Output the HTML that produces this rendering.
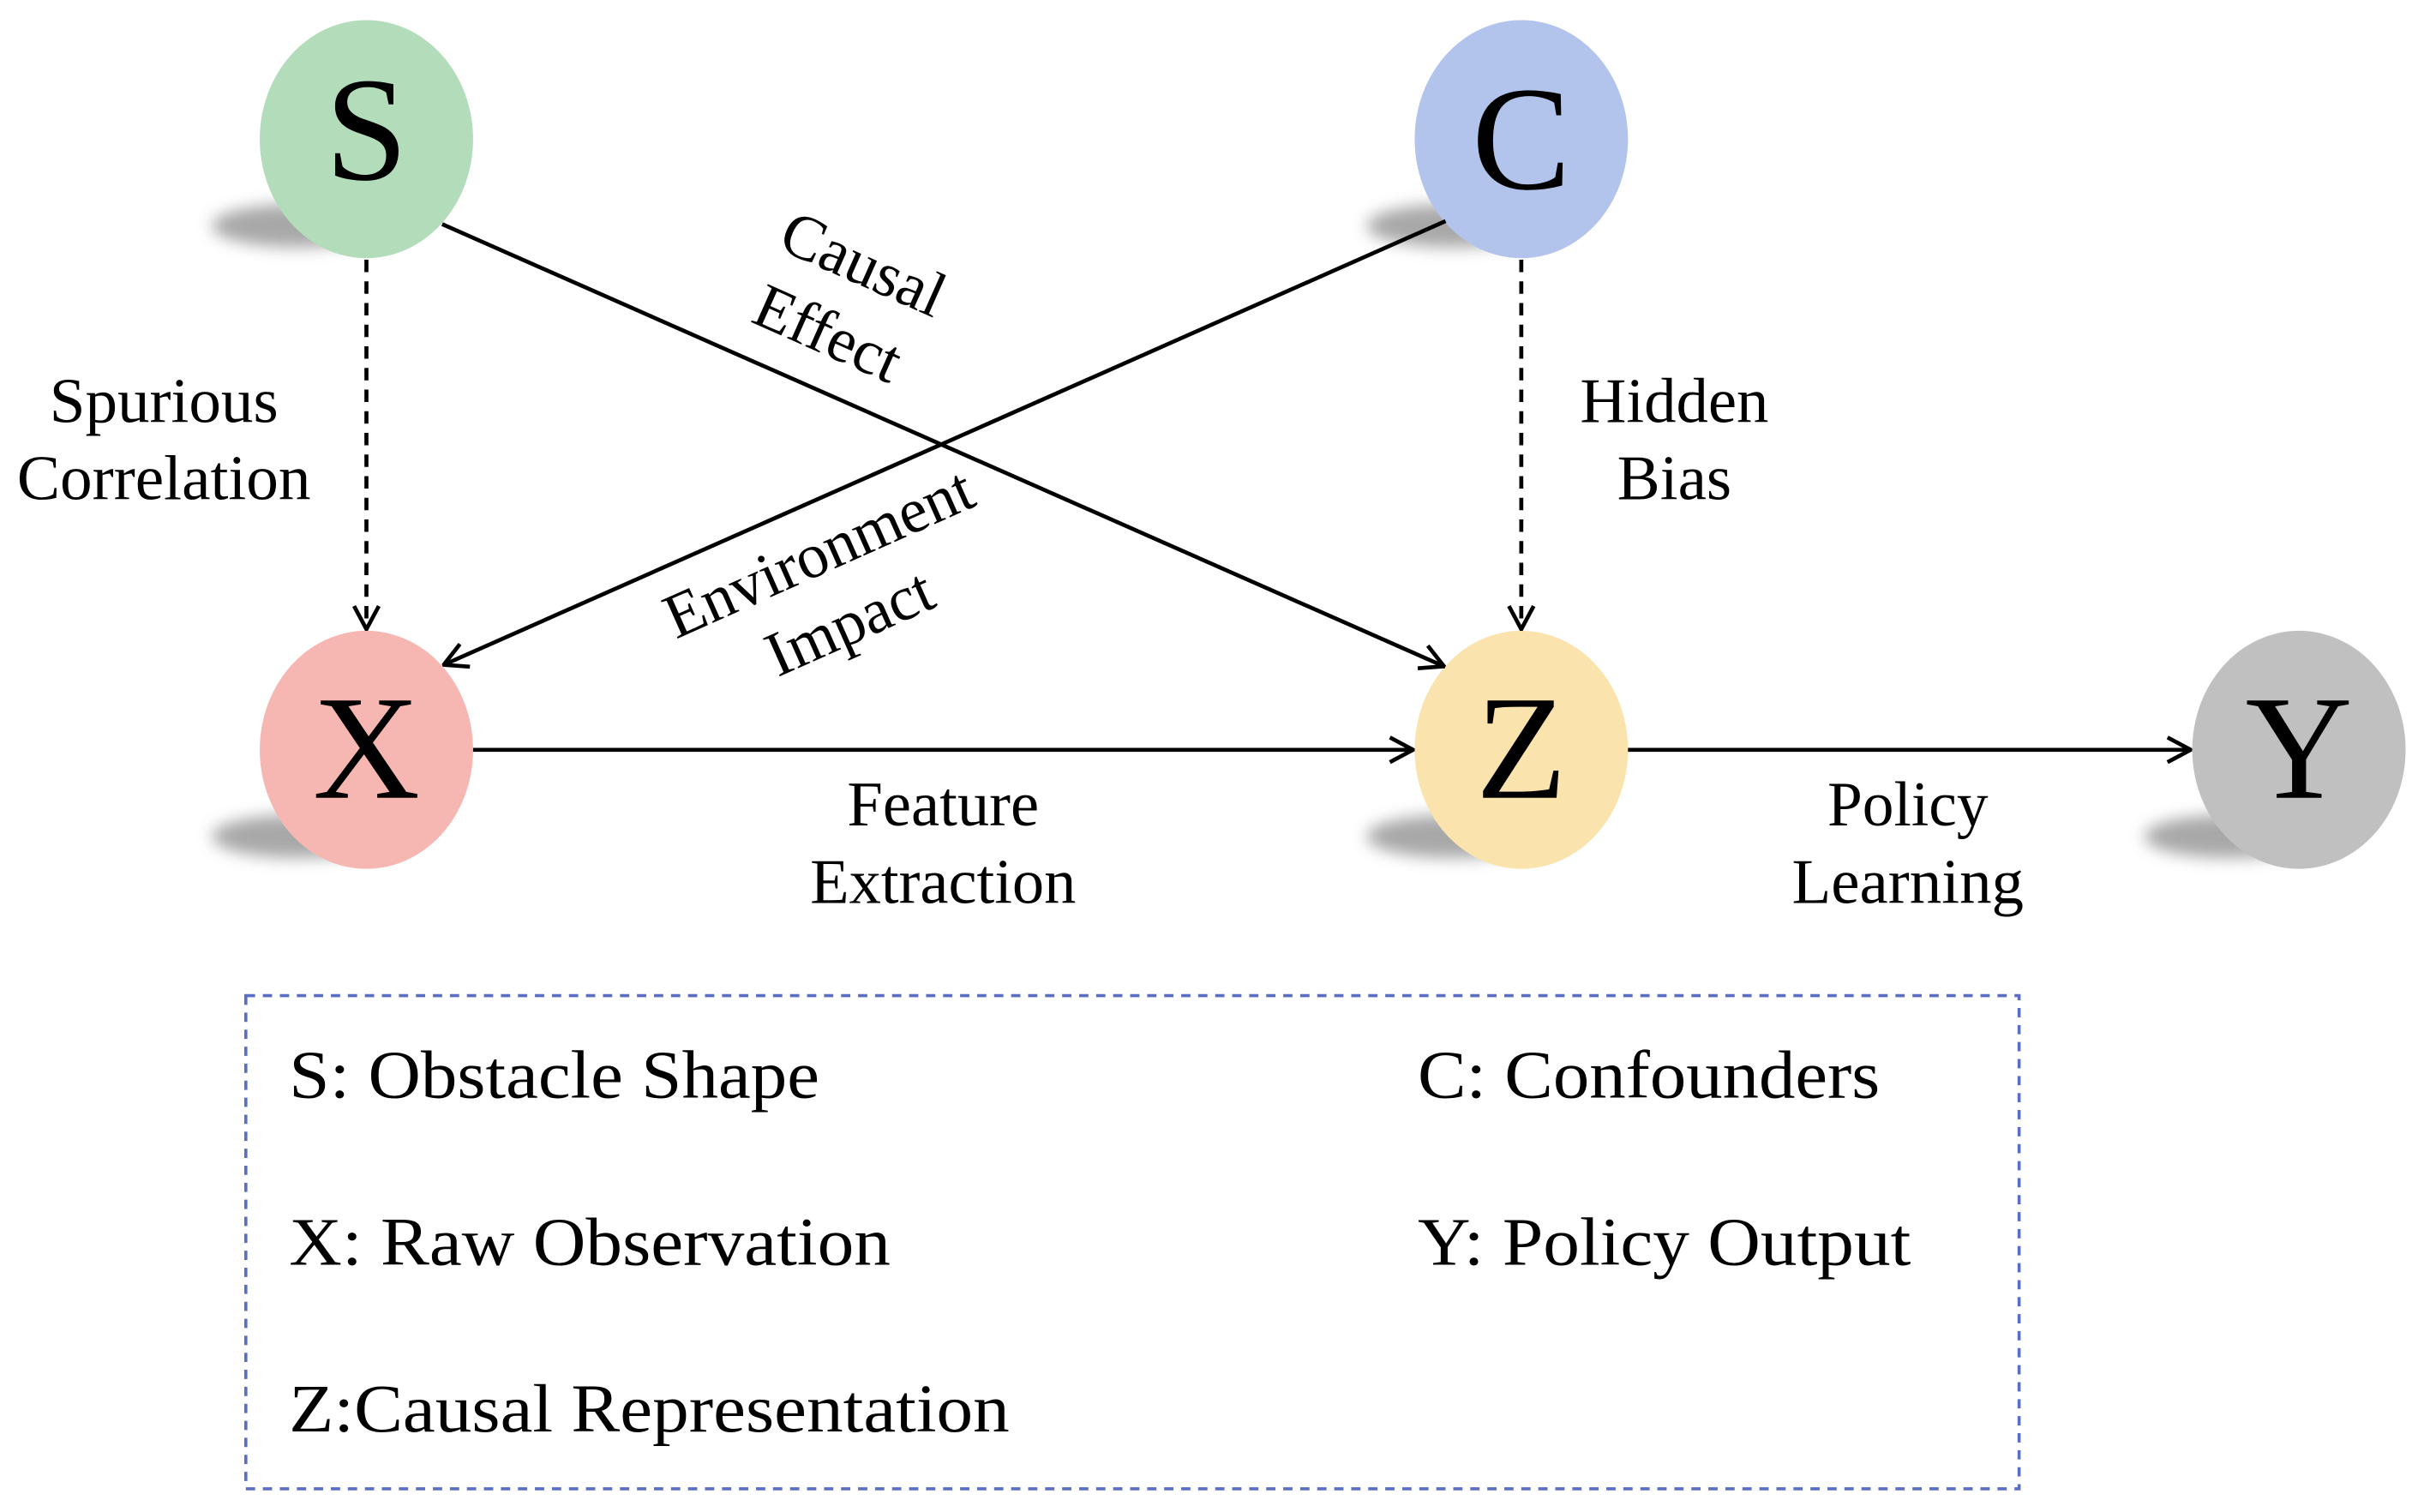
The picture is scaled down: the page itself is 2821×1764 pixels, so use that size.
<!DOCTYPE html>
<html><head><meta charset="utf-8"><style>
html,body{margin:0;padding:0;background:#fff;width:2821px;height:1764px;overflow:hidden}
svg{display:block}
text{font-family:"Liberation Serif",serif;fill:#000}
</style></head><body>
<svg width="2821" height="1764" viewBox="0 0 1564 978" xmlns="http://www.w3.org/2000/svg">
<defs>
<filter id="b" x="-50%" y="-100%" width="200%" height="300%"><feGaussianBlur stdDeviation="5"/></filter>
<marker id="a" viewBox="0 0 20 20" refX="19" refY="10" markerWidth="20" markerHeight="20" markerUnits="userSpaceOnUse" orient="auto">
<path d="M4,2 L19,10 L4,18" fill="none" stroke="#000" stroke-width="2.6"/>
</marker>
</defs>
<g fill="#999" filter="url(#b)" opacity="0.85">
<ellipse cx="192" cy="146" rx="55" ry="14"/>
<ellipse cx="939" cy="146" rx="55" ry="14"/>
<ellipse cx="192" cy="541" rx="55" ry="14"/>
<ellipse cx="939" cy="541" rx="55" ry="14"/>
<ellipse cx="1442" cy="541" rx="55" ry="14"/>
</g>
<ellipse cx="237" cy="90" rx="69" ry="77" fill="#b3dcbb"/>
<ellipse cx="984" cy="90" rx="69" ry="77" fill="#b2c3ec"/>
<ellipse cx="237" cy="485" rx="69" ry="77" fill="#f6b7b2"/>
<ellipse cx="984" cy="485" rx="69" ry="77" fill="#fbe3ad"/>
<ellipse cx="1487" cy="485" rx="69" ry="77" fill="#c0c0c0"/>
<g font-size="96" text-anchor="middle">
<text x="237" y="116">S</text>
<text x="984" y="122">C</text>
<text x="237" y="516">X</text>
<text x="984" y="516">Z</text>
<text x="1487" y="516">Y</text>
</g>
<g stroke="#000" stroke-width="2.6" fill="none">
<line x1="237" y1="168" x2="237" y2="407" stroke-dasharray="8,6" marker-end="url(#a)"/>
<line x1="984" y1="168" x2="984" y2="407" stroke-dasharray="8,6" marker-end="url(#a)"/>
<line x1="286" y1="145" x2="934" y2="431" marker-end="url(#a)"/>
<line x1="935" y1="143" x2="287" y2="430" marker-end="url(#a)"/>
<line x1="306" y1="485" x2="914" y2="485" marker-end="url(#a)"/>
<line x1="1053" y1="485" x2="1417" y2="485" marker-end="url(#a)"/>
</g>
<g font-size="41" text-anchor="middle">
<text x="106" y="273" textLength="148" lengthAdjust="spacingAndGlyphs">Spurious</text>
<text x="106" y="323" textLength="190" lengthAdjust="spacingAndGlyphs">Correlation</text>
<text x="1083" y="273" textLength="122" lengthAdjust="spacingAndGlyphs">Hidden</text>
<text x="1083" y="323" textLength="74" lengthAdjust="spacingAndGlyphs">Bias</text>
<text x="610" y="534" textLength="124" lengthAdjust="spacingAndGlyphs">Feature</text>
<text x="610" y="584" textLength="172" lengthAdjust="spacingAndGlyphs">Extraction</text>
<text x="1234" y="534" textLength="104" lengthAdjust="spacingAndGlyphs">Policy</text>
<text x="1234" y="584" textLength="150" lengthAdjust="spacingAndGlyphs">Learning</text>
<text transform="translate(553,183) rotate(24)">Causal</text>
<text transform="translate(530,228) rotate(24)">Effect</text>
<text transform="translate(535,370) rotate(-24)">Environment</text>
<text transform="translate(555,415) rotate(-24)">Impact</text>
</g>
<rect x="159" y="644" width="1147" height="319" fill="none" stroke="#5a6fc4" stroke-width="2" stroke-dasharray="6,5"/>
<g font-size="44">
<text x="187" y="710" textLength="343" lengthAdjust="spacingAndGlyphs">S: Obstacle Shape</text>
<text x="917" y="710" textLength="299" lengthAdjust="spacingAndGlyphs">C: Confounders</text>
<text x="187" y="818" textLength="389" lengthAdjust="spacingAndGlyphs">X: Raw Observation</text>
<text x="917" y="818" textLength="319" lengthAdjust="spacingAndGlyphs">Y: Policy Output</text>
<text x="187" y="926" textLength="466" lengthAdjust="spacingAndGlyphs">Z:Causal Representation</text>
</g>
</svg>
</body></html>
